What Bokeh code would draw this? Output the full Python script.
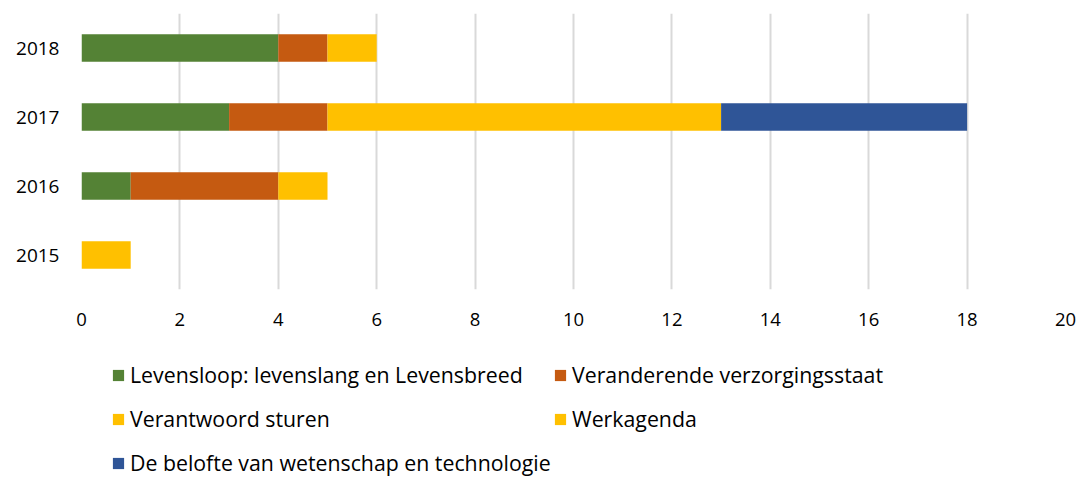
from bokeh.plotting import figure
from bokeh.models import ColumnDataSource, Legend, LegendItem
from bokeh.layouts import column
from bokeh.embed import file_html
from bokeh.resources import INLINE

years = ["2015", "2016", "2017", "2018"]
series = ["Levensloop: levenslang en Levensbreed",
          "Veranderende verzorgingsstaat",
          "Verantwoord sturen",
          "Werkagenda",
          "De belofte van wetenschap en technologie"]
levensloop = [0, 1, 3, 4]
verzorgingsstaat = [0, 3, 2, 1]
verantwoord = [0, 1, 8, 1]
werkagenda = [1, 0, 0, 0]
belofte = [0, 0, 5, 0]
colors = ["#548235", "#C55A11", "#FFC000", "#FFC000", "#2F5597"]
xticks = list(range(0, 21, 2))

keys = ["s0", "s1", "s2", "s3", "s4"]
source = ColumnDataSource(dict(year=years, s0=levensloop, s1=verzorgingsstaat,
                               s2=verantwoord, s3=werkagenda, s4=belofte))

FONT = "Open Sans"
W = 1078
p = figure(y_range=years, x_range=(0, 20), width=W, height=340,
           output_backend="svg", toolbar_location=None,
           min_border_left=81, min_border_right=13, min_border_top=13,
           min_border_bottom=51)
p.outline_line_color = None
p.hbar_stack(keys, y="year", height=0.4, color=colors, source=source,
             line_width=0)

p.xaxis.ticker = xticks
p.xaxis.axis_line_color = None
p.xaxis.major_tick_line_color = None
p.xaxis.minor_tick_line_color = None
p.xaxis.major_label_standoff = 17
p.xaxis.major_label_text_font = FONT
p.xaxis.major_label_text_font_size = "18.5px"
p.xaxis.major_label_text_color = "#000000"
p.yaxis.axis_line_color = None
p.yaxis.major_tick_line_color = None
p.yaxis.major_label_standoff = 16
p.yaxis.major_label_text_font = FONT
p.yaxis.major_label_text_font_size = "19px"
p.yaxis.major_label_text_color = "#000000"
p.ygrid.grid_line_color = None
p.xgrid.grid_line_color = "#d9d9d9"
p.xgrid.grid_line_width = 2

# legend in its own strip below the chart (frames are aligned by the column)
lf = figure(width=W, height=139, x_range=(0, 1), y_range=(0, 1),
            output_backend="svg", toolbar_location=None,
            min_border_left=81, min_border_right=13, min_border_top=0,
            min_border_bottom=0)
lf.axis.visible = False
lf.grid.grid_line_color = None
lf.outline_line_color = None
dummies = [lf.hbar(y=[-10], left=[0], right=[1], height=0.1, color=c,
                   line_width=0) for c in colors]

style = dict(label_text_font=FONT, label_text_font_size="21.3px",
             label_text_color="#000000",
             glyph_width=14, glyph_height=14, label_height=31,
             spacing=13, label_standoff=5, padding=0, margin=0,
             border_line_color=None, background_fill_alpha=0)
left_col = [0, 2, 4]
right_col = [1, 3]
legend_a = Legend(items=[LegendItem(label=series[i], renderers=[dummies[i]])
                         for i in left_col], location=(30, 1), **style)
legend_b = Legend(items=[LegendItem(label=series[i], renderers=[dummies[i]])
                         for i in right_col], location=(472, 45), **style)
lf.add_layout(legend_a, "center")
lf.add_layout(legend_b, "center")

layout = column(p, lf, spacing=0)
open("out.html", "w").write(file_html(layout, INLINE))
